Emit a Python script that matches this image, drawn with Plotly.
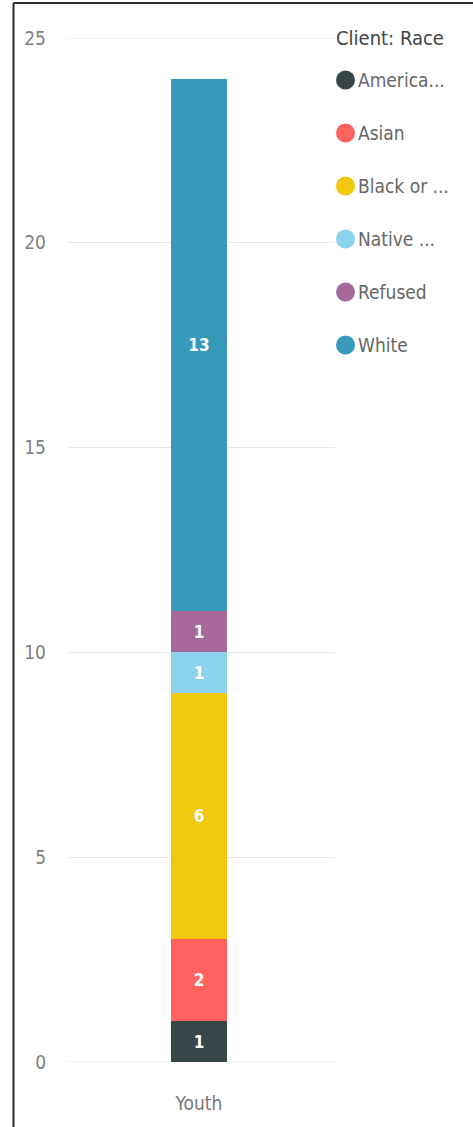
import plotly.graph_objects as go

categories = ["Youth"]
races = ["America...", "Asian", "Black or ...", "Native ...", "Refused", "White"]
values = [1, 2, 6, 1, 1, 13]
colors = ["#374649", "#FD625E", "#F2C80F", "#8AD4EB", "#A66999", "#3599B8"]
y_ticks = [0, 5, 10, 15, 20, 25]
legend_title = "Client: Race"

W, H = 473, 1127
L, R, T, B = 67, 138, 38, 65
PW, PH = W - L - R, H - T - B

def px_x(px):
    return (px - L) / PW

def px_y(py):
    return (H - B - py) / PH

FONT = "DejaVu Sans Condensed, Liberation Sans Narrow, sans-serif"

fig = go.Figure()
for name, v, c in zip(races, values, colors):
    fig.add_trace(go.Bar(
        x=categories, y=[v], name=name, marker=dict(color=c, line=dict(width=0)),
        text=[str(v)], textposition="inside", insidetextanchor="middle",
        textfont=dict(color="white", size=17, family=FONT, weight="bold"),
        showlegend=False, width=0.21,
    ))

fig.update_layout(
    barmode="stack",
    width=W, height=H,
    margin=dict(l=L, r=R, t=T, b=B),
    paper_bgcolor="white", plot_bgcolor="white",
    font=dict(family=FONT, color="#777777", size=19),
    uniformtext=dict(mode="show", minsize=10),
    xaxis=dict(showgrid=False, showline=False, zeroline=False, ticks="",
               range=[-0.4925, 0.5075],
               ticklabelstandoff=28, tickfont=dict(size=19, color="#777777")),
    yaxis=dict(range=[0, 25], tickvals=y_ticks, showgrid=True, gridcolor="#e8e8e8",
               gridwidth=1.2, zeroline=False, showline=False, ticks="",
               ticklabelstandoff=20, tickfont=dict(size=19, color="#808080")),
)

# edge gridlines (0 and 25)
for yv in (y_ticks[0], y_ticks[-1]):
    fig.add_shape(type="line", xref="paper", yref="y", x0=0, x1=1, y0=yv, y1=yv,
                  line=dict(color="#e8e8e8", width=1.2), layer="below")

# border
fig.add_shape(type="line", xref="paper", yref="paper", x0=px_x(13.5), x1=px_x(13.5),
              y0=px_y(3), y1=px_y(H + 5), line=dict(color="#2a2a2a", width=2))
fig.add_shape(type="line", xref="paper", yref="paper", x0=px_x(13.5), x1=px_x(W + 5),
              y0=px_y(3), y1=px_y(3), line=dict(color="#2a2a2a", width=2))

# legend
fig.add_annotation(text=legend_title, xref="paper", yref="paper",
                   x=px_x(334), y=px_y(38),
                   xanchor="left", yanchor="middle", showarrow=False,
                   font=dict(size=20, color="#444444", family=FONT))
legend_y = [80, 133, 186, 239, 292, 345]
for name, c, ly in zip(races, colors, legend_y):
    fig.add_shape(type="circle", xref="paper", yref="paper",
                  xsizemode="pixel", ysizemode="pixel",
                  xanchor=px_x(345.5), yanchor=px_y(ly),
                  x0=-9.5, x1=9.5, y0=-9.5, y1=9.5,
                  fillcolor=c, line=dict(width=0))
    fig.add_annotation(text=name, xref="paper", yref="paper", x=px_x(356), y=px_y(ly),
                       xanchor="left", yanchor="middle", showarrow=False,
                       font=dict(size=19, color="#666666", family=FONT))

fig.write_html("out.html")
